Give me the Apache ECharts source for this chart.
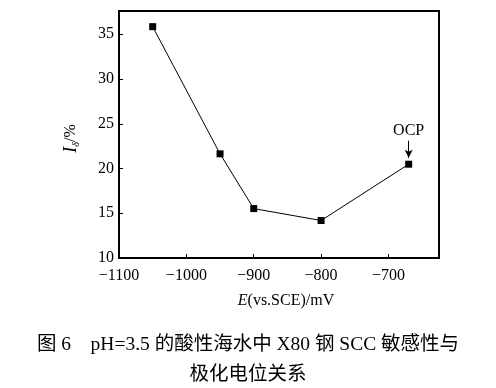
<!DOCTYPE html>
<html>
<head>
<meta charset="utf-8">
<script src="https://cdn.jsdelivr.net/npm/echarts@6/dist/echarts.min.js"></script>
<style>html,body{margin:0;padding:0;background:#fff;}#c{width:496px;height:388px;}</style>
</head>
<body>
<div id="c"></div>
<script>
var potentials = [-1050, -950, -900, -800, -670];
var sensitivity = [35.85, 21.64, 15.52, 14.19, 20.48];
var ocpPotential = -670;
var xTicks = [-1100, -1000, -900, -800, -700];
var yTicks = [10, 15, 20, 25, 30, 35];
var captionLine1 = '图 6\u3000pH=3.5 的酸性海水中 X80 钢 SCC 敏感性与';
var captionLine2 = '极化电位关系';

var serif = '"Liberation Serif", "Times New Roman", serif';
var cjk = '"Liberation Serif", "Noto Sans CJK SC", serif';

var chart = echarts.init(document.getElementById('c'), null, {renderer: 'canvas'});
chart.setOption({
  animation: false,
  backgroundColor: '#fff',
  grid: {left: 119, right: 57, top: 11, bottom: 130, show: true, borderColor: '#000', borderWidth: 2},
  xAxis: {
    type: 'value', min: -1100, max: -625, interval: 100,
    axisLine: {show: true, onZero: false, lineStyle: {color: '#000', width: 2}},
    axisTick: {show: true, inside: true, length: 4, lineStyle: {color: '#000', width: 1}},
    splitLine: {show: false},
    axisLabel: {color: '#000', fontFamily: serif, fontSize: 16, margin: 10,
      formatter: function (v) { return xTicks.indexOf(v) >= 0 ? String(v).replace('-', '\u2212') : ''; }},
    name: '{i|E}{n|(vs.SCE)/mV}', nameLocation: 'middle', nameGap: 35,
    nameTextStyle: {padding: [0, 0, 0, 14], rich: {i: {fontFamily: serif, fontStyle: 'italic', fontSize: 16, color: '#000'},
                            n: {fontFamily: serif, fontSize: 16, color: '#000'}}}
  },
  yAxis: {
    type: 'value', min: 10, max: 37.6, interval: 5,
    axisLine: {show: true, onZero: false, lineStyle: {color: '#000', width: 2}},
    axisTick: {show: true, inside: true, length: 4, lineStyle: {color: '#000', width: 1}},
    splitLine: {show: false},
    axisLabel: {color: '#000', fontFamily: serif, fontSize: 16, margin: 5,
      formatter: function (v) { return yTicks.indexOf(v) >= 0 ? String(v) : ''; }},
    name: '{i|I}{s|δ}{n|/%}', nameLocation: 'middle', nameGap: 38, nameRotate: 90,
    nameTextStyle: {padding: [0, 8, 0, 0], rich: {i: {fontFamily: serif, fontStyle: 'italic', fontSize: 18, color: '#000'},
                            s: {fontFamily: serif, fontStyle: 'italic', fontSize: 10, color: '#000', verticalAlign: 'bottom', padding: [10, 0, 0, 0]},
                            n: {fontFamily: serif, fontSize: 16, color: '#000'}}}
  },
  series: [{
    type: 'line',
    data: potentials.map(function (x, i) { return [x, sensitivity[i]]; }),
    symbol: 'rect', symbolSize: 7,
    itemStyle: {color: '#000'},
    lineStyle: {color: '#000', width: 1},
    markLine: {
      silent: true,
      symbol: ['none', 'arrow'], symbolSize: [6, 8],
      lineStyle: {color: '#000', width: 1, type: 'solid'},
      label: {show: true, position: 'start', formatter: 'OCP', color: '#000', fontFamily: serif, fontSize: 16, distance: 2},
      data: [[{coord: [ocpPotential, 23.1]}, {coord: [ocpPotential, 21.2]}]]
    }
  }],
  graphic: [
    {type: 'text', left: 'center', top: 335, style: {text: captionLine1, font: '19.5px ' + cjk, fill: '#000'}},
    {type: 'text', left: 'center', top: 365, style: {text: captionLine2, font: '19.5px ' + cjk, fill: '#000'}}
  ]
});
</script>
</body>
</html>
